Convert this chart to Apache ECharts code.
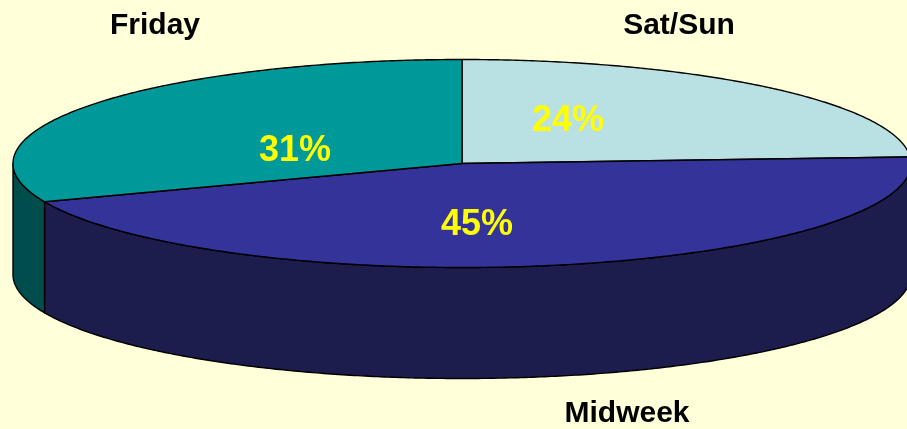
<!DOCTYPE html>
<html>
<head>
<meta charset="utf-8">
<script src="https://cdn.jsdelivr.net/npm/echarts@6/dist/echarts.min.js"></script>
<style>
  html, body { margin: 0; padding: 0; background: #FFFFD9; }
  #chart { width: 907px; height: 429px; }
</style>
</head>
<body>
<div id="chart"></div>
<script>
// Share of visits by day group (percent)
const categories = ['Sat/Sun', 'Midweek', 'Friday'];
const shares = [24, 45, 31];

// Face colours: top of each slice and its darker rim
const topColors = ['#B9E0E3', '#333399', '#009999'];
const sideColors = ['#1F3F40', '#1C1C4D', '#004D4D'];

// Pie geometry (tilted disc)
const CX = 462, CY = 163.5, RX = 449, RY = 104, DEPTH = 111;

// Where the text sits for each slice
const nameAnchors = [[679, 26], [627, 414], [155, 26]];
const pctAnchors = [[568, 121], [477, 225], [295, 151]];

const total = shares.reduce((a, b) => a + b, 0);
const startAngles = [];
shares.reduce((acc, v, i) => { startAngles[i] = acc; return acc + v / total * 360; }, 0);

function pt(deg, dy) {
  const t = deg * Math.PI / 180;
  return [CX + RX * Math.sin(t), CY - RY * Math.cos(t) + (dy || 0)];
}
function arc(a0, a1, dy) {
  const pts = [];
  const n = Math.max(2, Math.ceil(Math.abs(a1 - a0) / 0.5));
  for (let k = 0; k <= n; k++) pts.push(pt(a0 + (a1 - a0) * k / n, dy));
  return pts;
}

function renderItem(params, api) {
  const i = params.dataIndex;
  const v = api.value(0);
  const a0 = startAngles[i];
  const a1 = a0 + v / total * 360;
  const children = [];

  // Visible rim: the front half of the disc (90deg .. 270deg from top, clockwise)
  const lo = Math.max(a0, 90), hi = Math.min(a1, 270);
  if (lo < hi) {
    const rim = arc(lo, hi, 0).concat(arc(hi, lo, DEPTH));
    children.push({
      type: 'polygon', z2: 1,
      shape: { points: rim },
      style: { fill: sideColors[i], stroke: '#000', lineWidth: 1.4, lineJoin: 'round' }
    });
  }

  // Top face
  children.push({
    type: 'polygon', z2: 10,
    shape: { points: [[CX, CY]].concat(arc(a0, a1, 0)) },
    style: { fill: topColors[i], stroke: '#000', lineWidth: 1.4, lineJoin: 'round' }
  });

  // Percentage label on the slice
  children.push({
    type: 'text', z2: 20,
    style: {
      text: Math.round(v / total * 100) + '%',
      x: pctAnchors[i][0], y: pctAnchors[i][1],
      fill: '#FFFF00', font: 'bold 36px "Liberation Sans", Arial, sans-serif',
      align: 'center', verticalAlign: 'middle'
    }
  });

  // Category name outside the disc
  children.push({
    type: 'text', z2: 20,
    style: {
      text: categories[i],
      x: nameAnchors[i][0], y: nameAnchors[i][1],
      fill: '#000000', font: 'bold 30px "Liberation Sans", Arial, sans-serif',
      align: 'center', verticalAlign: 'middle'
    }
  });

  return { type: 'group', children: children };
}

const chart = echarts.init(document.getElementById('chart'), null, { renderer: 'canvas' });
chart.setOption({
  backgroundColor: '#FFFFD9',
  animation: false,
  series: [{
    type: 'custom',
    coordinateSystem: 'none',
    renderItem: renderItem,
    data: shares.map((v, i) => ({ name: categories[i], value: [v] }))
  }]
});
</script>
</body>
</html>
